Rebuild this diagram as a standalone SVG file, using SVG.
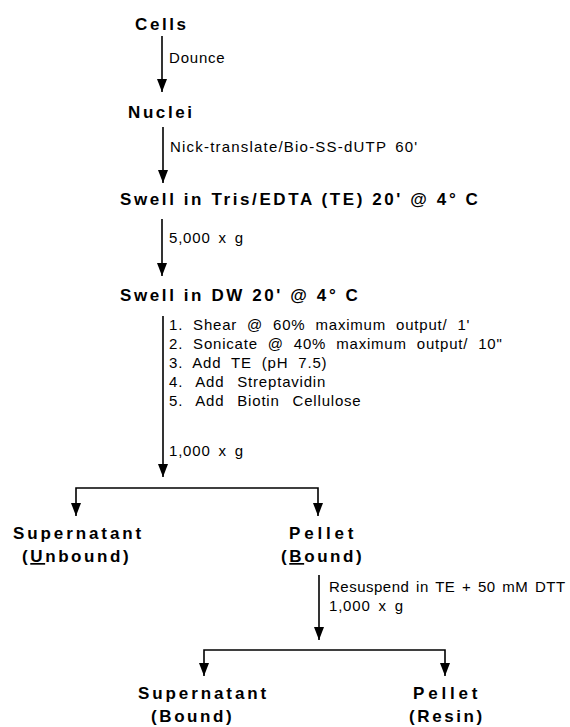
<svg xmlns="http://www.w3.org/2000/svg" width="570" height="727" viewBox="0 0 570 727">
<defs>
<marker id="ah" viewBox="0 0 13 10" refX="13" refY="5" markerWidth="13" markerHeight="10" markerUnits="userSpaceOnUse" orient="auto-start-reverse">
<path d="M0,0 L13,5 L0,10 z" fill="#000"/>
</marker>
<style>
.b{font-family:"Liberation Sans",Arial,sans-serif;font-weight:bold;font-size:17px;letter-spacing:2.6px;fill:#000}
.r{font-family:"Liberation Sans",Arial,sans-serif;font-size:15px;letter-spacing:0.8px;word-spacing:3px;fill:#000}
.c{fill:none;stroke:#000;stroke-width:1.6}
.u{text-decoration:underline}
</style>
</defs>
<rect width="570" height="727" fill="#fff"/>
<g id="connectors">
<path class="c" d="M162,36 V92" marker-end="url(#ah)"/>
<path class="c" d="M163,127 V183" marker-end="url(#ah)"/>
<path class="c" d="M162,219 V276" marker-end="url(#ah)"/>
<path class="c" d="M163,316 V477" marker-end="url(#ah)"/>
<path class="c" d="M76,516 V488 H318 V516" marker-start="url(#ah)" marker-end="url(#ah)"/>
<path class="c" d="M319,575 V640" marker-end="url(#ah)"/>
<path class="c" d="M204,676 V650 H445 V676" marker-start="url(#ah)" marker-end="url(#ah)"/>
</g>
<g id="cells"><text class="b" x="135" y="30">Cells</text></g>
<g id="label-dounce"><text class="r" x="169" y="63">Dounce</text></g>
<g id="nuclei"><text class="b" x="128" y="118">Nuclei</text></g>
<g id="label-nick"><text class="r" x="170" y="152" style="letter-spacing:1.2px">Nick-translate/Bio-SS-dUTP  60'</text></g>
<g id="swell-te"><text class="b" x="120" y="205" xml:space="preserve">Swell in Tris/EDTA (TE) 20' @ 4° C</text></g>
<g id="label-5000"><text class="r" x="169" y="243">5,000 x g</text></g>
<g id="swell-dw"><text class="b" x="120" y="301">Swell in DW 20' @ 4° C</text></g>
<g id="label-steps">
<text class="r" x="169" y="330" style="word-spacing:5px">1. Shear @ 60% maximum output/ 1'</text>
<text class="r" x="169" y="349" style="word-spacing:5px">2. Sonicate @ 40% maximum output/ 10"</text>
<text class="r" x="169" y="368" style="word-spacing:5px">3. Add TE (pH 7.5)</text>
<text class="r" x="169" y="387" style="word-spacing:8px">4. Add Streptavidin</text>
<text class="r" x="169" y="406" style="word-spacing:8px">5. Add Biotin Cellulose</text>
<text class="r" x="169" y="456">1,000 x g</text>
</g>
<g id="supernatant-unbound">
<text class="b" x="13" y="539" style="letter-spacing:2.9px">Supernatant</text>
<text class="b" x="22" y="562">(<tspan class="u">U</tspan>nbound)</text>
</g>
<g id="pellet-bound">
<text class="b" x="289" y="539" style="letter-spacing:3.8px">Pellet</text>
<text class="b" x="281" y="562">(<tspan class="u">B</tspan>ound)</text>
</g>
<g id="label-resuspend">
<text class="r" x="329" y="592" style="letter-spacing:0.5px;word-spacing:2px">Resuspend in TE + 50 mM DTT</text>
<text class="r" x="329" y="611">1,000 x g</text>
</g>
<g id="supernatant-bound">
<text class="b" x="138" y="699" style="letter-spacing:2.9px">Supernatant</text>
<text class="b" x="151" y="722">(Bound)</text>
</g>
<g id="pellet-resin">
<text class="b" x="413" y="699" style="letter-spacing:3.8px">Pellet</text>
<text class="b" x="409" y="722">(Resin)</text>
</g>
</svg>
